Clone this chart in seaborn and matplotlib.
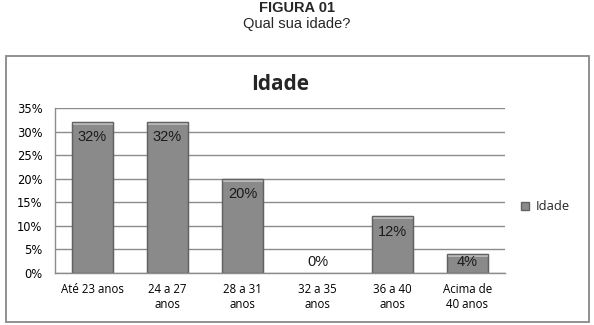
import pandas as pd
import numpy as np
import matplotlib
matplotlib.use("Agg")
import matplotlib.pyplot as plt
import seaborn as sns
from matplotlib.patches import Rectangle
from matplotlib.ticker import PercentFormatter

faixas = ['Até 23 anos', '24 a 27\nanos', '28 a 31\nanos', '32 a 35\nanos', '36 a 40\nanos', 'Acima de\n40 anos']
valores = [0.32, 0.32, 0.20, 0.0, 0.12, 0.04]
rotulos = ['32%', '32%', '20%', '0%', '12%', '4%']

df = pd.DataFrame({'faixa': faixas, 'valor': valores})

sns.set_style("white")
plt.rcParams['font.family'] = ['Open Sans', 'DejaVu Sans']

fig = plt.figure(figsize=(5.94, 3.25), dpi=100)
ax = fig.add_axes([0.0926, 0.16, 0.7574, 0.5077])

# chart frame
fig.patches.append(Rectangle((6 / 594, 3 / 325), 583 / 594, 266 / 325, transform=fig.transFigure,
                             facecolor='none', edgecolor='#888888', linewidth=1.3, zorder=0))

sns.barplot(data=df, x='faixa', y='valor', color='#8a8a8a', saturation=1, width=0.55,
            edgecolor='#626262', linewidth=0.9, ax=ax, zorder=3)

ax.set_ylim(0, 0.35)
ax.set_yticks(np.arange(0, 0.351, 0.05))
ax.yaxis.set_major_formatter(PercentFormatter(1.0, decimals=0))
ax.grid(axis='y', color='#8c8c8c', linewidth=1, zorder=0)
ax.set_axisbelow(True)
for s in ['top', 'right']:
    ax.spines[s].set_visible(False)
for s in ['left', 'bottom']:
    ax.spines[s].set_color('#8c8c8c')
    ax.spines[s].set_linewidth(1)
    ax.spines[s].set_zorder(6)
ax.tick_params(axis='both', length=0, colors='black')
ax.tick_params(axis='y', pad=9, labelsize=8.3)
for lb in ax.get_yticklabels():
    lb.set_family(['DejaVu Sans'])
ax.tick_params(axis='x', pad=7, labelsize=8.3)
ax.set_xlabel('')
ax.set_ylabel('')

# bevel highlight on bar tops
bev = 0.35 / 165 * 3
for p in list(ax.patches):
    h = p.get_height()
    if h <= 0:
        p.set_visible(False)
        continue
    ax.add_patch(Rectangle((p.get_x(), h - min(bev, h)), p.get_width(), min(bev, h),
                           facecolor='#b8b8b8', edgecolor='none', zorder=4))
    ax.add_patch(Rectangle((p.get_x(), 0), p.get_width(), h, facecolor='none',
                           edgecolor='#626262', linewidth=0.9, zorder=4))

# data labels inside the bar tops
for i, (v, r) in enumerate(zip(valores, rotulos)):
    ax.text(i, max(v - 0.032, 0.023), r, ha='center', va='center', fontsize=10.5,
            family=['Liberation Sans', 'DejaVu Sans'], color='#1a1a1a', zorder=5)

ax.set_title('Idade', fontsize=15, fontweight='bold', pad=13,
             family=['Open Sans', 'DejaVu Sans'])

# legend
ax.legend(handles=[Rectangle((0, 0), 1, 1, facecolor='#8a8a8a', edgecolor='#626262')], labels=['Idade'],
          loc='center left', bbox_to_anchor=(1.01, 0.4), frameon=False, fontsize=9.3,
          handlelength=0.65, handleheight=0.65, handletextpad=0.5)

fig.text(0.5, 0.974, 'FIGURA 01', ha='center', va='center', fontsize=10.5, fontweight='bold',
         family=['Liberation Sans', 'DejaVu Sans'])
fig.text(0.5, 0.926, 'Qual sua idade?', ha='center', va='center', fontsize=10.5,
         family=['Liberation Sans', 'DejaVu Sans'])

fig.savefig('out.png', dpi=100)
